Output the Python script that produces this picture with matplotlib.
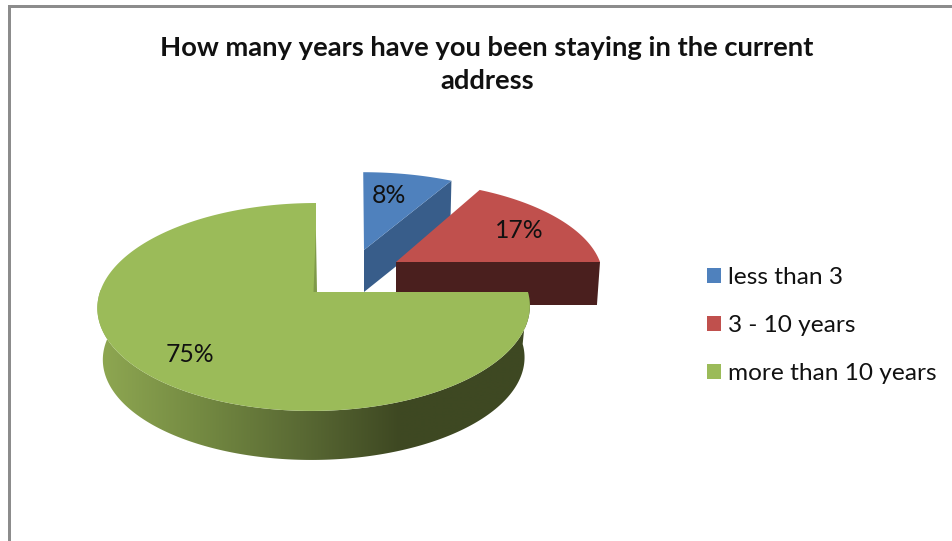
import numpy as np
import matplotlib
matplotlib.use("Agg")
import matplotlib.pyplot as plt
from matplotlib.patches import Polygon, Patch, Rectangle

TITLE = "How many years have you been staying in the current\naddress"
categories = ["less than 3", "3 - 10 years", "more than 10 years"]
shares = [8, 17, 75]

TOP_COLORS = ["#4f81bd", "#c0504d", "#9bbb59"]
WALL_COLORS = ["#385d8a", "#4a1f1e", None]
TEXT = "#111111"
FONT = "Lato"

# Projection of each exploded slice: pivot in pixels, horizontal and vertical
# radius, pivot offset inside the disc, slant, wall drop, wall shrink,
# label radius and label position along the slice's arc
SLICES = [
    dict(px=364, py=250, B=206, A=89, du=0.0, s=-0.01, drop=42, shrink=1.0, lab=0.68, frac=0.4),
    dict(px=396, py=262, B=204, A=92.6, du=0.0, s=-0.05, drop=43, shrink=0.985, lab=0.74, frac=0.52),
    dict(px=316, py=292, B=214, A=101.8, du=0.0095, s=0.02, drop=52, shrink=0.975, lab=0.77, frac=0.493),
]
TILT = 0.144


def project(sl, theta, r=1.0, drop=0.0, scale=1.0):
    """Map a disc position (clockwise from 12 o'clock) to pixel coordinates."""
    u, v = r * np.sin(theta), r * np.cos(theta)
    w = 1 + TILT * v
    yoff = sl["A"] * scale * v / w
    x = sl["px"] + sl["B"] * scale * (u - sl["du"]) / w + sl["s"] * yoff
    y = sl["py"] - yoff + drop
    return x, y


fig = plt.figure(figsize=(9.53, 5.41), dpi=100, facecolor="white")
ax = fig.add_axes([0, 0, 1, 1])
ax.set_xlim(0, 953)
ax.set_ylim(541, 0)
ax.axis("off")

# Chart frame, cropped on the right and at the bottom
ax.add_patch(Rectangle((8, 5), 3, 536, fc="#8c8c8c", ec="none"))
ax.add_patch(Rectangle((8, 5), 945, 3, fc="#8c8c8c", ec="none"))

bounds = np.radians(np.cumsum([0] + shares) / sum(shares) * 360)

for i, sl in enumerate(SLICES):
    t0, t1 = bounds[i], bounds[i + 1]
    theta = np.linspace(t0, t1, 240)
    rx, ry = project(sl, theta)
    top = np.column_stack([np.r_[sl["px"], rx], np.r_[sl["py"], ry]])

    if i == 0:
        # Cut face running from the pivot to the right-hand rim corner
        ex, ey = project(sl, t1)
        face = [(sl["px"], sl["py"]), (ex, ey), (ex - 1, ey + sl["drop"]),
                (sl["px"], sl["py"] + sl["drop"])]
        ax.add_patch(Polygon(face, fc=WALL_COLORS[i], ec="none", zorder=1 + i))
    elif i == 1:
        # Front cut face below the horizontal edge
        ex, ey = project(sl, t1)
        lx, ly = project(sl, t1, drop=sl["drop"], scale=sl["shrink"])
        face = [(sl["px"], sl["py"]), (ex, ey), (lx, ly), (sl["px"], sl["py"] + sl["drop"])]
        ax.add_patch(Polygon(face, fc=WALL_COLORS[i], ec="none", zorder=1 + i))
    else:
        # Curved outer wall with a left-to-right shading ramp
        th = np.linspace(t0, np.radians(285), 240)
        ux, uy = project(sl, th)
        lx, ly = project(sl, th, drop=sl["drop"], scale=sl["shrink"])
        outline = np.column_stack([np.r_[ux, lx[::-1]], np.r_[uy, ly[::-1]]])
        wall = Polygon(outline, fc="none", ec="none", zorder=1 + i)
        ax.add_patch(wall)
        stops_x = [97, 200, 300, 400, 530]
        stops = np.array([[143, 168, 82], [116, 138, 66], [90, 106, 52],
                          [62, 72, 34], [62, 72, 34]]) / 255
        xs = np.linspace(97, 530, 434)
        ramp = np.stack([np.interp(xs, stops_x, stops[:, c]) for c in range(3)], axis=-1)
        img = ax.imshow(ramp[None, :, :], extent=(97, 530, 470, 290), aspect="auto",
                        zorder=1 + i, interpolation="bilinear")
        img.set_clip_path(wall)

    ax.add_patch(Polygon(top, fc=TOP_COLORS[i], ec="none", zorder=1.5 + i))

    if i == 2:
        # Narrow sliver of the inner cut face beside the notch
        cx, cy = project(sl, t1, r=0.67)
        sliver = [(sl["px"] - 2.5, sl["py"]), (sl["px"] + 1, sl["py"]), (cx + 0.5, cy)]
        ax.add_patch(Polygon(sliver, fc="#7f9a49", ec="none", zorder=2 + i))

    mid = t0 + (t1 - t0) * sl["frac"]
    lx, ly = project(sl, mid, r=sl["lab"])
    ax.text(lx, ly, f"{shares[i]}%", ha="center", va="center", fontsize=17.8,
            family=FONT, color=TEXT, zorder=10)

ax.set_xlim(0, 953)
ax.set_ylim(541, 0)

ax.text(487, 64.5, TITLE, ha="center", va="center", fontsize=19.7, fontweight="bold",
        family=FONT, color=TEXT, linespacing=1.44)

handles = [Patch(fc=c, ec="none") for c in TOP_COLORS]
FS = 17.6
leg = ax.legend(handles, categories, loc="upper left", bbox_to_anchor=(707 / 953, 1 - 267.5 / 541),
                bbox_transform=ax.transAxes, frameon=False, borderpad=0, borderaxespad=0,
                handlelength=10.08 / FS, handleheight=10.08 / FS, handletextpad=0.29,
                labelspacing=1.09, prop={"family": FONT, "size": FS}, labelcolor=TEXT)

fig.savefig("out.png", dpi=100)
